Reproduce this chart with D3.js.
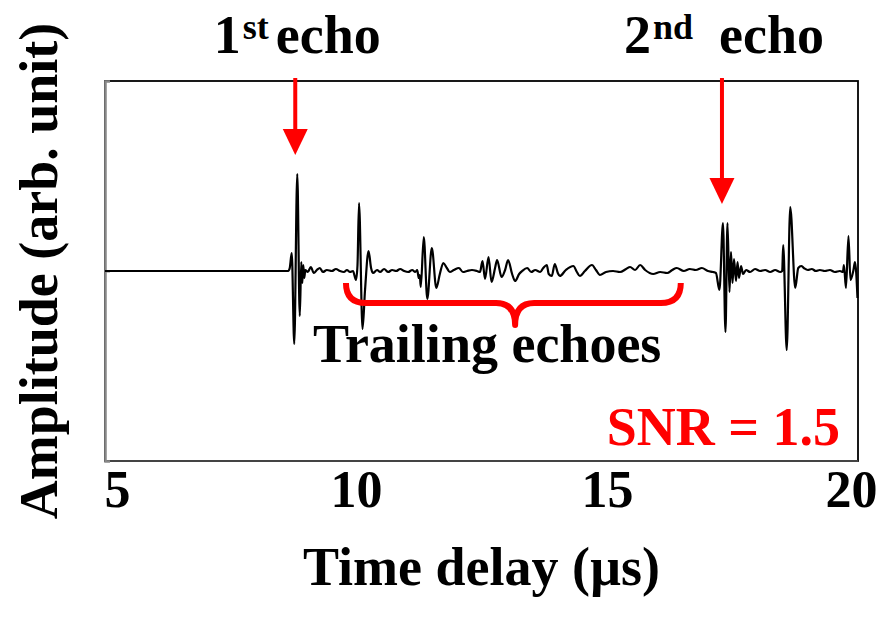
<!DOCTYPE html>
<html>
<head>
<meta charset="utf-8">
<script src="https://cdn.jsdelivr.net/npm/d3@7"></script>
<style>
  body { margin: 0; background: #fff; }
  text { font-family: "Liberation Serif", "Times New Roman", serif; font-weight: bold; }
</style>
</head>
<body>
<div id="chart"></div>
<script>
// trace: time (µs) and amplitude (arb. unit)
const timeUs = [
  5.00, 8.65, 8.68, 8.72, 8.77, 8.83, 8.88, 8.91, 8.93, 8.95,
  8.97, 8.99, 9.04, 9.10, 9.16, 9.22, 9.28, 9.34, 9.42, 9.52,
  9.60, 9.68, 9.76, 9.82, 9.88, 9.94, 10.00, 10.03, 10.06, 10.13,
  10.18, 10.25, 10.30, 10.34, 10.42, 10.48, 10.56, 10.64, 10.72, 10.80,
  10.88, 10.96, 11.04, 11.12, 11.18, 11.22, 11.25, 11.27, 11.29, 11.35,
  11.42, 11.51, 11.60, 11.67, 11.74, 11.81, 11.87, 11.95, 12.05, 12.13,
  12.21, 12.31, 12.41, 12.47, 12.52, 12.57, 12.64, 12.70, 12.77, 12.81,
  12.90, 12.97, 13.03, 13.11, 13.17, 13.25, 13.31, 13.41, 13.49, 13.57,
  13.67, 13.73, 13.80, 13.84, 13.90, 13.96, 14.02, 14.06, 14.18, 14.33,
  14.40, 14.46, 14.56, 14.70, 14.78, 14.86, 14.98, 15.12, 15.26, 15.38,
  15.46, 15.56, 15.66, 15.76, 15.92, 16.06, 16.20, 16.30, 16.39, 16.53,
  16.65, 16.77, 16.89, 17.01, 17.11, 17.17, 17.24, 17.31, 17.36, 17.40,
  17.44, 17.47, 17.50, 17.53, 17.57, 17.60, 17.63, 17.67, 17.71, 17.77,
  17.85, 17.95, 18.05, 18.15, 18.25, 18.35, 18.45, 18.49, 18.51, 18.58,
  18.65, 18.75, 18.81, 18.87, 18.92, 19.00, 19.08, 19.16, 19.24, 19.34,
  19.44, 19.54, 19.64, 19.70, 19.72, 19.76, 19.81, 19.85, 19.91, 19.94, 19.99
];
const amplitude = [
  0, 0, 3, 18, -73, 97, -45, 9, -12, 6,
  -7, 1, -1, 4, -2, 1, 3, -1, 1, 0,
  2, 0, -1, 1, -1, 0, -9, 6, 68, -58,
  -19, 20, 3, -2, 1, -1, 2, -1, 1, 0,
  2, 0, -1, 1, -1, 1, -7, -4, -16, 34,
  -28, 23, -17, -3, 8, 3, -1, 1, 3, -1,
  0, 1, 0, -1, 10, -8, 14, -11, 3, 11,
  -6, 1, 11, -3, -10, -3, 0, 3, -1, 1,
  -1, 3, 6, -3, -5, 7, -2, -5, 1, 5,
  -1, -5, 0, 6, 1, -4, -1, 0, -1, 2,
  4, 1, 6, 1, -3, -1, -2, 1, 3, 0,
  2, 1, 3, 0, -1, -2, -19, 48, -61, 48,
  -21, 19, -12, 12, -10, 9, -7, 5, -3, 1,
  -1, 2, 0, 1, -1, 1, -1, 0, 26, -79,
  64, -17, 3, 5, 3, 1, 2, 0, 1, 0,
  1, -1, 0, -1, 6, -17, 35, -9, 1, 9, -27
];
const xTicks = [5, 10, 15, 20];
const yTicks = [0];

// annotations (data units)
const echoLabels = [
  { t: 8.79, tip: 116, num: "1", sup: "st", gap: 7 },
  { t: 17.29, tip: 67, num: "2", sup: "nd", gap: 26 }
];
const brace = { from: 9.80, mid: 13.17, to: 16.47 };

const width = 883, height = 619;
const margin = { top: 81, right: 25, bottom: 158, left: 105 };

const svg = d3.select("#chart").append("svg")
  .attr("width", width)
  .attr("height", height);

const x = d3.scaleLinear().domain([5, 20]).range([margin.left, width - margin.right]);
const y = d3.scaleLinear().domain([-190, 190]).range([height - margin.bottom, margin.top]);

// frame
svg.append("rect")
  .attr("x", x(5)).attr("y", y(190))
  .attr("width", x(20) - x(5)).attr("height", y(-190) - y(190))
  .attr("fill", "none").attr("stroke", "#000").attr("stroke-width", 1.8);

svg.append("line")
  .attr("x1", x(5)).attr("x2", x(20))
  .attr("y1", y(-190)).attr("y2", y(-190))
  .attr("stroke", "#444").attr("stroke-width", 2);

// left axis (grey, one inward tick at 0)
const yAxis = svg.append("g")
  .attr("transform", `translate(${x(5)},0)`)
  .call(d3.axisLeft(y).tickValues(yTicks).tickSize(-5).tickFormat(""));
yAxis.select(".domain").attr("stroke", "#888").attr("stroke-width", 2.5);
yAxis.selectAll(".tick line").attr("stroke", "#888").attr("stroke-width", 2);

// bottom tick labels
const xAxis = svg.append("g")
  .attr("transform", `translate(0,${y(-190)})`)
  .call(d3.axisBottom(x).tickValues(xTicks).tickSize(0).tickPadding(0));
xAxis.select(".domain").remove();
xAxis.selectAll("text")
  .attr("y", 46)
  .attr("dy", 0)
  .attr("fill", "#000")
  .style("font-size", "52px")
  .style("font-family", "'Liberation Serif', serif")
  .style("font-weight", "bold")
  .attr("dx", d => d === 5 ? 12 : d === 20 ? -7 : 0);

// waveform
const line = d3.line()
  .x((d, i) => x(timeUs[i]))
  .y(d => y(d))
  .curve(d3.curveMonotoneX);

svg.append("path")
  .datum(amplitude)
  .attr("d", line)
  .attr("fill", "none")
  .attr("stroke", "#000")
  .attr("stroke-width", 2.2)
  .attr("stroke-linejoin", "round");

// arrows + echo labels
echoLabels.forEach(e => {
  const ax = x(e.t), tipY = y(e.tip);
  svg.append("line")
    .attr("x1", ax).attr("x2", ax)
    .attr("y1", 78).attr("y2", tipY - 20)
    .attr("stroke", "#ff0000").attr("stroke-width", 4);
  svg.append("path")
    .attr("d", `M${ax - 12.5},${tipY - 26} L${ax + 12.5},${tipY - 26} L${ax},${tipY} Z`)
    .attr("fill", "#ff0000");

  const label = svg.append("text")
    .attr("x", ax + 2).attr("y", 53)
    .attr("text-anchor", "middle")
    .style("font-size", "54px")
    .attr("fill", "#000");
  label.append("tspan").text(e.num);
  label.append("tspan").text(e.sup).style("font-size", "36px").attr("dx", 2).attr("dy", -14);
  label.append("tspan").text("echo").attr("dx", e.gap).attr("dy", 14);
});

// brace under trailing echoes
const bl = x(brace.from), bm = x(brace.mid), br = x(brace.to);
const bTop = y(-12), bMid = y(-32), bTip = y(-54);
svg.append("path")
  .attr("d", `M${bl},${bTop} Q${bl},${bMid} ${bl + 20},${bMid} L${bm - 19},${bMid}
              Q${bm},${bMid} ${bm},${bTip} Q${bm},${bMid} ${bm + 19},${bMid}
              L${br - 20},${bMid} Q${br},${bMid} ${br},${bTop}`)
  .attr("fill", "none")
  .attr("stroke", "#ff0000")
  .attr("stroke-width", 6)
  .attr("stroke-linejoin", "round");

svg.append("text")
  .attr("x", x(brace.mid) - 28).attr("y", 362)
  .attr("text-anchor", "middle")
  .style("font-size", "54px")
  .attr("fill", "#000")
  .text("Trailing echoes");

svg.append("text")
  .attr("x", x(20) - 18).attr("y", 445)
  .attr("text-anchor", "end")
  .style("font-size", "54px")
  .attr("fill", "#ff0000")
  .text("SNR = 1.5");

// axis titles
svg.append("text")
  .attr("x", (x(5) + x(20)) / 2).attr("y", 585)
  .attr("text-anchor", "middle")
  .style("font-size", "54px")
  .attr("fill", "#000")
  .text("Time delay (µs)");

svg.append("text")
  .attr("transform", `translate(57,${(y(190) + y(-190)) / 2}) rotate(-90)`)
  .attr("text-anchor", "middle")
  .style("font-size", "54px")
  .attr("fill", "#000")
  .text("Amplitude (arb. unit)");
</script>
</body>
</html>
